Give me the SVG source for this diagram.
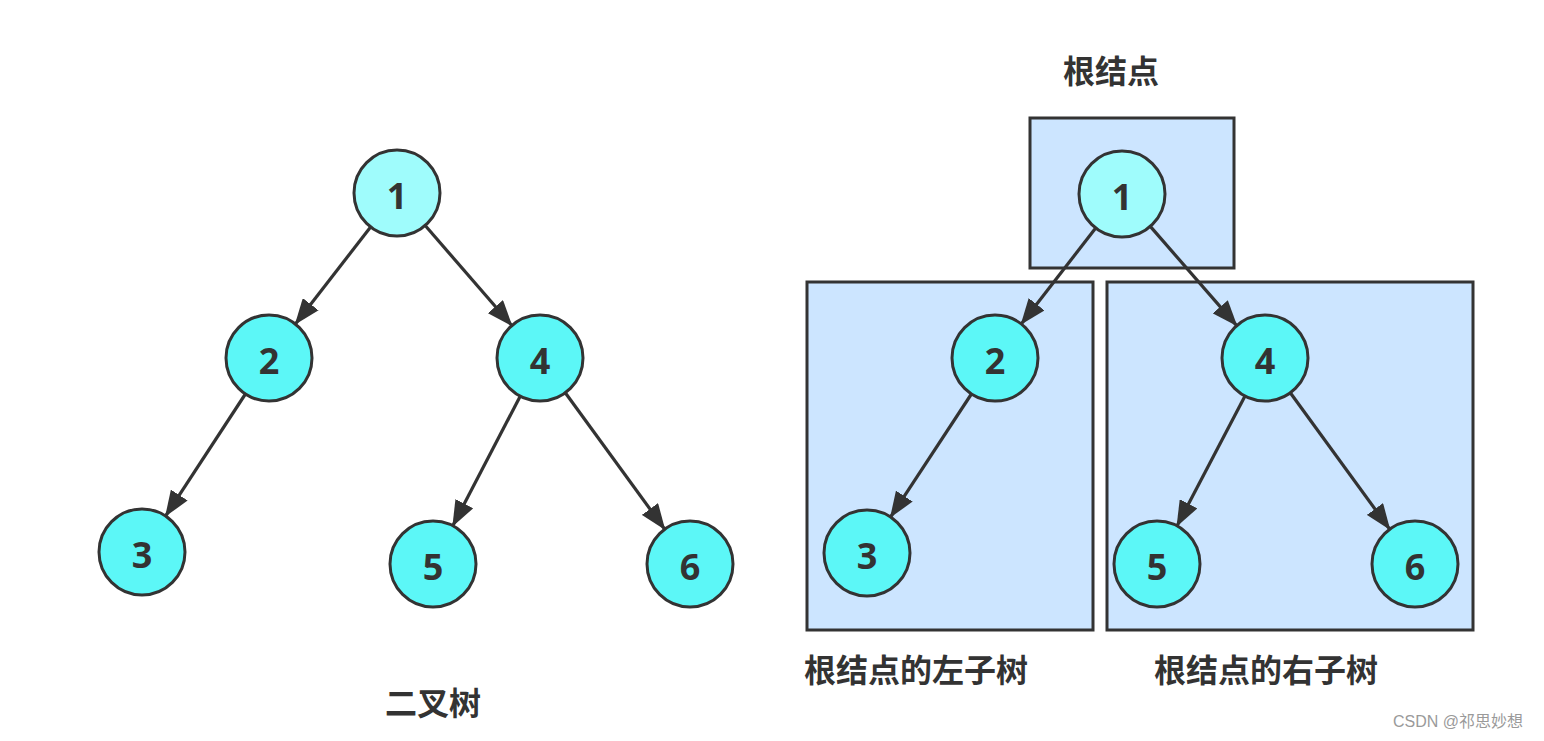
<svg xmlns="http://www.w3.org/2000/svg" width="1544" height="741" viewBox="0 0 1544 741">
<style>
.bg{fill:#ffffff}
.box{fill:#cce5ff;stroke:#333333;stroke-width:3}
.n circle{fill:#5cf7f7;stroke:#333333;stroke-width:3}
.n.root circle{fill:#9ffcfc}
.n text{font-family:"Open Sans","Liberation Sans",sans-serif;font-weight:bold;font-size:36px;fill:#333333;text-anchor:middle;dominant-baseline:central}
.lbl{font-family:"Noto Sans CJK SC","Liberation Sans",sans-serif;font-weight:bold;font-size:32px;fill:#333333}
.wm{font-family:"Liberation Sans","Noto Sans CJK SC",sans-serif;font-size:16px;fill:#9a9a9a}
.e line{stroke:#333333;stroke-width:3.2;marker-end:url(#arr)}
</style>
<defs>
<marker id="arr" markerUnits="userSpaceOnUse" markerWidth="26" markerHeight="20" viewBox="0 0 26 20" refX="25" refY="10" orient="auto">
<path d="M0,0 L26,10 L0,20 z" fill="#333333"/>
</marker>
</defs>
<rect class="bg" x="0" y="0" width="1544" height="741"/>
<g id="boxes">
<rect id="box-root" class="box" x="1030" y="118" width="204" height="150"/>
<rect id="box-left" class="box" x="807" y="282" width="286" height="348"/>
<rect id="box-right" class="box" x="1107" y="282" width="366" height="348"/>
</g>
<g id="connectors" class="e">
<line x1="370.6" y1="227" x2="295.4" y2="324"/>
<line x1="425.2" y1="225.5" x2="511.8" y2="325.5"/>
<line x1="245.4" y1="394" x2="165.6" y2="516"/>
<line x1="520.2" y1="396.2" x2="452.8" y2="525.8"/>
<line x1="565.3" y1="392.8" x2="664.7" y2="529.2"/>
<line x1="1095.7" y1="228" x2="1021.3" y2="324"/>
<line x1="1150.3" y1="226.4" x2="1236.7" y2="325.6"/>
<line x1="971.4" y1="394" x2="890.6" y2="517"/>
<line x1="1245" y1="396.1" x2="1177" y2="525.9"/>
<line x1="1290.3" y1="392.8" x2="1389.7" y2="529.2"/>
</g>
<g id="L1" class="n root"><circle cx="397" cy="193" r="43"/><text x="397" y="195">1</text></g>
<g id="L2" class="n"><circle cx="269" cy="358" r="43"/><text x="269" y="360">2</text></g>
<g id="L4" class="n"><circle cx="540" cy="358" r="43"/><text x="540" y="360">4</text></g>
<g id="L3" class="n"><circle cx="142" cy="552" r="43"/><text x="142" y="554">3</text></g>
<g id="L5" class="n"><circle cx="433" cy="564" r="43"/><text x="433" y="566">5</text></g>
<g id="L6" class="n"><circle cx="690" cy="564" r="43"/><text x="690" y="566">6</text></g>
<g id="R1" class="n root"><circle cx="1122" cy="194" r="43"/><text x="1122" y="196">1</text></g>
<g id="R2" class="n"><circle cx="995" cy="358" r="43"/><text x="995" y="360">2</text></g>
<g id="R4" class="n"><circle cx="1265" cy="358" r="43"/><text x="1265" y="360">4</text></g>
<g id="R3" class="n"><circle cx="867" cy="553" r="43"/><text x="867" y="555">3</text></g>
<g id="R5" class="n"><circle cx="1157" cy="564" r="43"/><text x="1157" y="566">5</text></g>
<g id="R6" class="n"><circle cx="1415" cy="564" r="43"/><text x="1415" y="566">6</text></g>
<g id="labels">
<text class="lbl" x="1111" y="83" text-anchor="middle">根结点</text>
<text class="lbl" x="433" y="715" text-anchor="middle">二叉树</text>
<text class="lbl" x="916" y="682" text-anchor="middle">根结点的左子树</text>
<text class="lbl" x="1266" y="682" text-anchor="middle">根结点的右子树</text>
<text class="wm" x="1393" y="727">CSDN @祁思妙想</text>
</g>
</svg>
